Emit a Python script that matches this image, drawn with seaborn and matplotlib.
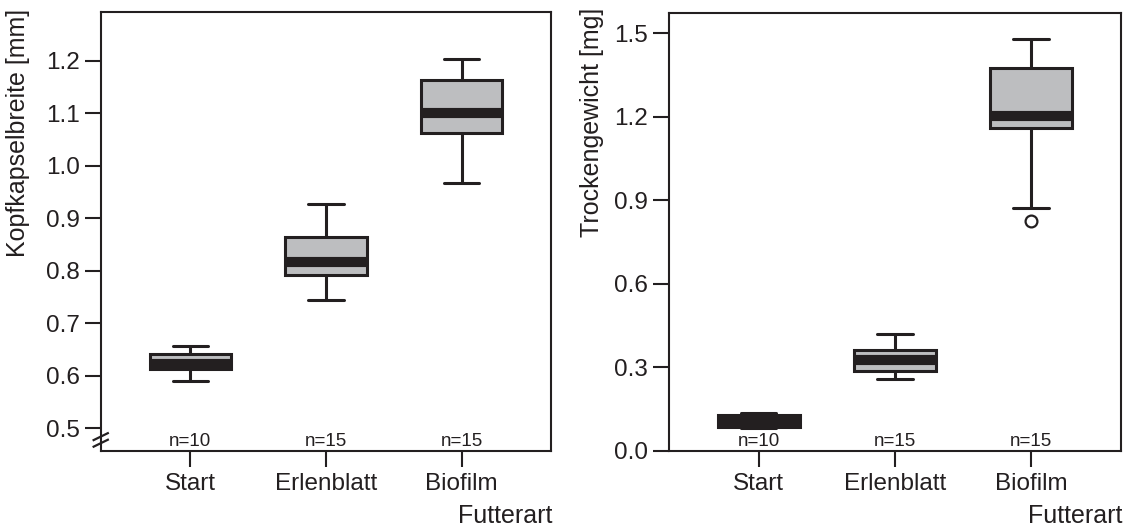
import numpy as np
import pandas as pd
import matplotlib
matplotlib.use("Agg")
import matplotlib.pyplot as plt
import seaborn as sns

# Feeding groups and sample sizes
categories = ["Start", "Erlenblatt", "Biofilm"]
n_labels = ["n=10", "n=15", "n=15"]

# Head capsule width [mm] per larva
kopf_start = [0.590, 0.605, 0.612, 0.612, 0.620, 0.624, 0.640, 0.643, 0.652, 0.657]
kopf_erlenblatt = [0.744, 0.762, 0.780, 0.789, 0.795, 0.803, 0.810, 0.816,
                   0.828, 0.845, 0.861, 0.869, 0.884, 0.905, 0.927]
kopf_biofilm = [0.967, 1.012, 1.040, 1.058, 1.066, 1.078, 1.090, 1.100,
                1.112, 1.130, 1.158, 1.170, 1.178, 1.190, 1.203]

# Dry weight [mg] per larva
tg_start = [0.082, 0.084, 0.085, 0.085, 0.100, 0.110, 0.124, 0.128, 0.133, 0.137]
tg_erlenblatt = [0.259, 0.268, 0.276, 0.284, 0.290, 0.298, 0.312, 0.327,
                 0.334, 0.343, 0.356, 0.364, 0.378, 0.398, 0.420]
tg_biofilm = [0.824, 0.873, 1.020, 1.146, 1.170, 1.182, 1.193, 1.201,
              1.235, 1.285, 1.345, 1.405, 1.435, 1.460, 1.479]

kopf_ticks = [0.5, 0.6, 0.7, 0.8, 0.9, 1.0, 1.1, 1.2]
tg_ticks = [0.0, 0.3, 0.6, 0.9, 1.2, 1.5]

sns.set_theme(style="ticks")
plt.rcParams["font.family"] = ["Liberation Sans", "DejaVu Sans"]

INK = "#231f20"
FILL = "#bdbec0"


def long_frame(groups):
    return pd.DataFrame({
        "Futterart": np.repeat(categories, [len(g) for g in groups]),
        "Wert": np.concatenate(groups),
    })


box_kw = dict(
    order=categories, color=FILL, saturation=1, linecolor=INK, linewidth=2.2,
    width=0.6, capwidths=0.26,
    medianprops=dict(color=INK, linewidth=7.3, solid_capstyle="butt"),
    flierprops=dict(marker="o", markersize=8.5, markerfacecolor="white",
                    markeredgecolor=INK, markeredgewidth=1.6),
)

fig = plt.figure(figsize=(11.28, 5.26), dpi=100)
ax1 = fig.add_axes([0.0893, 0.1432, 0.3992, 0.8346])
ax2 = fig.add_axes([0.5931, 0.1432, 0.4004, 0.8327])

sns.boxplot(data=long_frame([kopf_start, kopf_erlenblatt, kopf_biofilm]),
            x="Futterart", y="Wert", ax=ax1, **box_kw)
sns.boxplot(data=long_frame([tg_start, tg_erlenblatt, tg_biofilm]),
            x="Futterart", y="Wert", ax=ax2, **box_kw)

panels = [
    (ax1, "Kopfkapselbreite [mm]", (0.457, 1.294), kopf_ticks, -0.157, 0.724),
    (ax2, "Trockengewicht [mg]", (0.0, 1.574), tg_ticks, -0.144, 0.75),
]
for ax, ylabel, ylim, ticks, lx, ly in panels:
    ax.set_xlim(-0.66, 2.66)
    ax.set_ylim(*ylim)
    ax.set_yticks(ticks)
    ax.set_yticklabels([f"{t:.1f}" for t in ticks])
    ax.set_xlabel("")
    ax.set_ylabel(ylabel, fontsize=18, color=INK)
    ax.yaxis.set_label_coords(lx, ly)
    for sp in ax.spines.values():
        sp.set_linewidth(1.5)
        sp.set_color(INK)
    ax.tick_params(axis="both", direction="out", length=11.5, width=1.5,
                   color=INK, labelsize=17.5, labelcolor=INK)
    ax.tick_params(axis="x", pad=4.5)
    ax.tick_params(axis="y", pad=3.5)
    for i, lab in enumerate(n_labels):
        ax.text(i, 0.011, lab, transform=ax.get_xaxis_transform(),
                ha="center", va="baseline", fontsize=13.5, color=INK)
    ax.text(1.003, -0.165, "Futterart", transform=ax.transAxes,
            ha="right", va="baseline", fontsize=18, color=INK)

# Axis break marks on the truncated head-capsule scale
for yc in (0.032, 0.017):
    ax1.plot([-0.018, 0.018], [yc - 0.009, yc + 0.009], transform=ax1.transAxes,
             clip_on=False, color=INK, lw=1.6, solid_capstyle="butt")

fig.savefig("out.png", dpi=100)
